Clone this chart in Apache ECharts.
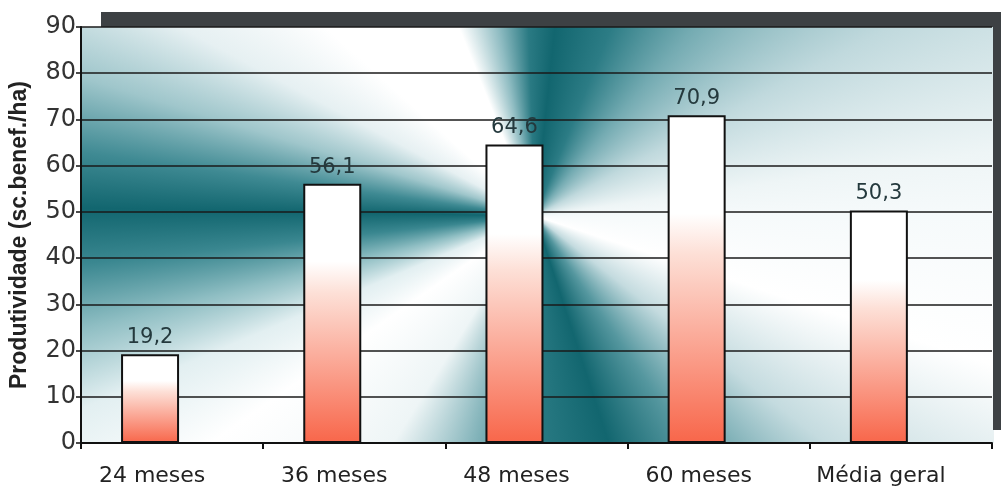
<!DOCTYPE html>
<html><head><meta charset="utf-8">
<script src="https://cdn.jsdelivr.net/npm/echarts@6/dist/echarts.min.js"></script>
<style>html,body{margin:0;padding:0;background:#fff}#c{width:1001px;height:492px}</style>
</head><body><div id="c"></div>
<script>
const categories = ['24 meses', '36 meses', '48 meses', '60 meses', 'Média geral'];
const values = [19.2, 56.1, 64.6, 70.9, 50.3];
const yMin = 0, yMax = 90, yStep = 10;
const yName = 'Produtividade (sc.benef./ha)';

const chart = echarts.init(document.getElementById('c'));
const G = {left: 80, top: 27, right: 9, bottom: 49};
const PW = 1001 - G.left - G.right, PH = 492 - G.top - G.bottom;

// decorative background (conic teal pattern)
const bg = document.createElement('canvas');
bg.width = PW + 2; bg.height = PH;
const ctx = bg.getContext('2d');
const cg = ctx.createConicGradient(0, 535 - G.left, 216 - G.top);
const T = '#12666f';
const stops = [
  [0, '#f6fafb'], [18, '#ffffff'], [38, '#c4dbdf'], [56, '#55979f'], [72, T], [90, '#2a7b84'],
  [106, '#8ab8be'], [122, '#eef5f6'], [145, '#ffffff'], [157, '#e2eff1'], [166, '#8fbec3'],
  [174, '#3a8790'], [181, T], [188, '#3f8a93'], [197, '#9fc6cb'], [208, '#e6f0f2'], [222, '#ffffff'],
  [248, '#ffffff'], [259, '#8fbcc2'], [268, '#2a7a83'], [276, T], [292, '#2c7c85'], [310, '#74abb2'],
  [332, '#c0d9dd'], [352, '#eef5f6'], [360, '#f6fafb']
];
stops.forEach(s => cg.addColorStop(s[0] / 360, s[1]));
ctx.fillStyle = cg;
ctx.fillRect(0, 0, bg.width, bg.height);

const barFill = new echarts.graphic.LinearGradient(0, 0, 0, 1, [
  {offset: 0, color: '#ffffff'}, {offset: 0.3, color: '#ffffff'},
  {offset: 0.42, color: '#fde0d7'}, {offset: 1, color: '#f8664a'}
]);

chart.setOption({
  animation: false,
  textStyle: {fontFamily: 'DejaVu Sans'},
  graphic: [
    {type: 'image', z: -10, style: {image: bg, x: G.left, y: G.top, width: PW + 2, height: PH}},
    {type: 'rect', z: -5, shape: {x: 101, y: 12, width: 900, height: 15}, style: {fill: '#3d4144'}},
    {type: 'rect', z: -5, shape: {x: 993, y: 12, width: 8, height: 418}, style: {fill: '#3d4144'}}
  ],
  grid: G,
  xAxis: {
    type: 'category', data: categories,
    axisLine: {lineStyle: {color: '#111', width: 2}},
    axisTick: {show: true, length: 6, lineStyle: {color: '#111', width: 2}},
    axisLabel: {
      margin: 22,
      formatter: v => '{a|' + v + '}',
      rich: {a: {fontSize: 22, color: '#222', fontFamily: 'DejaVu Sans', padding: [0, 40, 0, 0]}}
    }
  },
  yAxis: {
    type: 'value', min: yMin, max: yMax, interval: yStep,
    name: yName, nameLocation: 'middle', nameGap: 50, nameRotate: 90,
    nameTextStyle: {fontSize: 23, color: '#222', fontWeight: 'bold', fontFamily: 'Liberation Sans'},
    axisLine: {show: true, lineStyle: {color: '#111', width: 2}},
    axisTick: {show: true, length: 5, lineStyle: {color: '#111', width: 1.5}},
    axisLabel: {margin: 5, fontSize: 24, color: '#333', fontFamily: 'DejaVu Sans'},
    splitLine: {lineStyle: {color: '#1a1a1a', width: 1.5}}
  },
  series: [
    {
      type: 'bar', data: values, barWidth: 58, barGap: '-24%',
      itemStyle: {color: barFill, borderColor: '#111', borderWidth: 2},
      label: {show: true, position: 'top', distance: 6, fontSize: 21, color: '#24393d',
        fontFamily: 'DejaVu Sans', formatter: p => String(p.value).replace('.', ',')}
    },
    {type: 'bar', data: values.map(() => '-'), barWidth: 58, silent: true}
  ]
});
</script></body></html>
